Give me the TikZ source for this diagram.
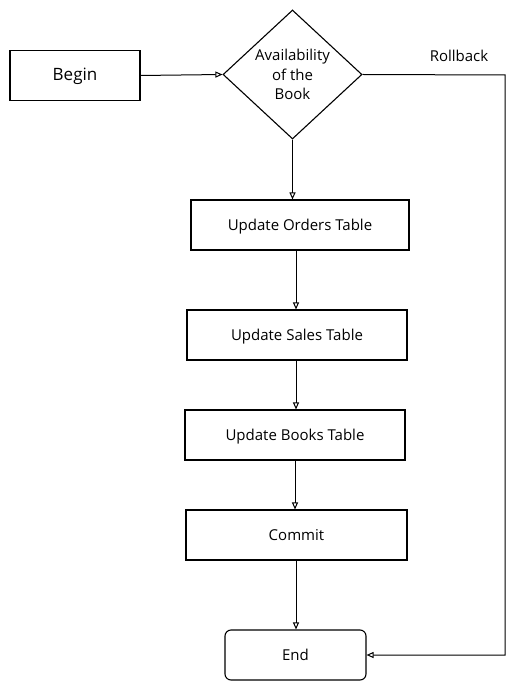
\documentclass[tikz,border=0pt]{standalone}
\usepackage{fontspec}
\setmainfont{Open Sans}
\usetikzlibrary{shapes.geometric,arrows.meta,calc}
\begin{document}
\begin{tikzpicture}[x=1pt,y=-1pt,
  every node/.style={font=\fontsize{15}{19.5}\selectfont, text=black},
  box/.style={draw, line width=1.1pt, rectangle, inner sep=0pt, minimum height=50pt, text depth=0pt, text height=11pt},
  decide/.style={draw, line width=1.1pt, diamond, inner sep=0pt, minimum width=139pt, minimum height=129pt, align=center},
  conn/.style={draw, line width=1pt, -{Triangle[open, length=7pt, width=6pt]}}
]
\useasboundingbox (0,0) rectangle (529,692);
\node[box, minimum width=130pt, font=\fontsize{17}{20}\selectfont] (begin) at (75,75.5) {Begin};
\node[decide] (avail) at (292.5,74.5) {Availability\\of the\\Book};
\node (rb) at (459,56) {Rollback};
\node[box, minimum width=218pt] (orders) at (300,225) {Update Orders Table};
\node[box, minimum width=220pt] (sales) at (297,335) {Update Sales Table};
\node[box, minimum width=220pt] (books) at (295,435) {Update Books Table};
\node[box, minimum width=221pt] (commit) at (296.5,535) {Commit};
\node[box, minimum width=141pt, rounded corners=6pt] (end) at (295.5,655) {End};
\coordinate (c1) at (505,75);
\coordinate (c2) at (505,655);
\coordinate (o1) at (296,250);
\coordinate (s1) at (296,360);
\coordinate (b1) at (295,460);
\coordinate (m1) at (296,560);
\draw[conn] (begin.east) -- (avail.west);
\draw[conn] (avail.south) -- (avail.south |- orders.north);
\draw[conn] (o1) -- (o1 |- sales.north);
\draw[conn] (s1) -- (s1 |- books.north);
\draw[conn] (b1) -- (b1 |- commit.north);
\draw[conn] (m1) -- (m1 |- end.north);
\draw[conn] (avail.east) -- (c1) -- (c2) -- (end.east);
\end{tikzpicture}
\end{document}
